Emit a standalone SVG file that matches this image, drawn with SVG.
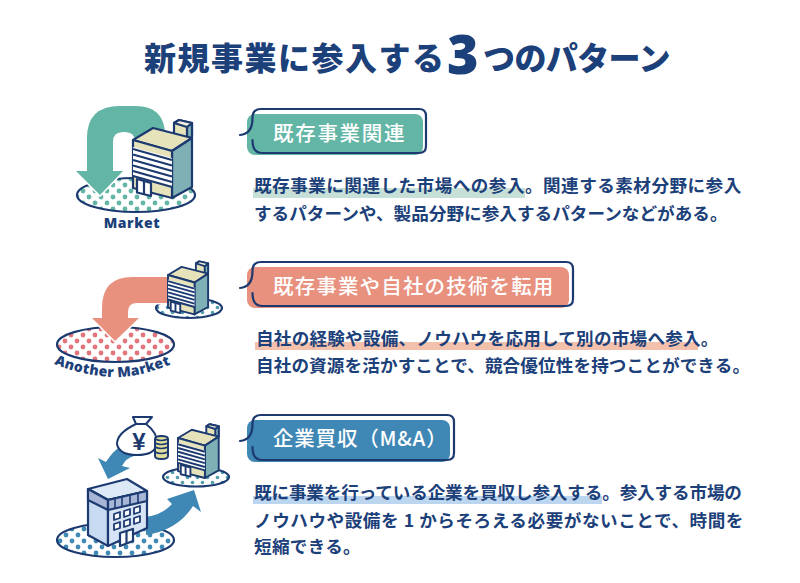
<svg xmlns="http://www.w3.org/2000/svg" xmlns:xlink="http://www.w3.org/1999/xlink" width="800" height="583" viewBox="0 0 800 583">
<style>
.jp{font-family:"Noto Sans CJK JP","Noto Sans",sans-serif}
.title{font-size:32px;font-weight:900;fill:#1c4079}
.head{font-size:20.5px;font-weight:500;fill:#fff;letter-spacing:1.4px}
.body{font-size:17.6px;font-weight:700;fill:#1c4079}
.lat{font-family:"Open Sans","Noto Sans",sans-serif;font-weight:800;fill:#1c4079}
.ln{fill:none;stroke:#1c3a70;stroke-width:2.2;stroke-linecap:round;stroke-linejoin:round}
.b{stroke:#1c3a70;stroke-linejoin:round}
.mk{stroke:#1c3a70;stroke-width:2.2}
.arr{stroke:#fff;stroke-width:3;stroke-linejoin:miter;paint-order:stroke}
</style>
<defs>
<pattern id="dt" width="12" height="12" patternUnits="userSpaceOnUse" patternTransform="translate(2 2)"><rect width="12" height="12" fill="#fff"/><circle cx="3" cy="3" r="2.400" fill="#63b5a6"/><circle cx="9" cy="9" r="2.400" fill="#63b5a6"/></pattern>
<pattern id="dp" width="12" height="12" patternUnits="userSpaceOnUse" patternTransform="translate(2 2)"><rect width="12" height="12" fill="#fff"/><circle cx="3" cy="3" r="2.400" fill="#e2747c"/><circle cx="9" cy="9" r="2.400" fill="#e2747c"/></pattern>
<pattern id="db" width="12" height="12" patternUnits="userSpaceOnUse" patternTransform="translate(3 4)"><rect width="12" height="12" fill="#fff"/><circle cx="3" cy="3" r="2.400" fill="#3f8ab5"/><circle cx="9" cy="9" r="2.400" fill="#3f8ab5"/></pattern>
<pattern id="ds" width="10" height="10" patternUnits="userSpaceOnUse"><rect width="10" height="10" fill="#fff"/><circle cx="2.500" cy="2.500" r="1.800" fill="#4f9cac"/><circle cx="7.500" cy="7.500" r="1.800" fill="#4f9cac"/></pattern>
<g id="bld" class="b">
<path d="M174 123L179 120L192 123V137L187 139L174 135Z" fill="#e6e3bb"/>
<path d="M187 127L192 123V137L187 140Z" fill="#7fb0b5"/>
<path d="M174 123L179 120L192 123L187 127Z" fill="#f4f2dc"/>
<path d="M133 140L153 128L192 138L172 151Z" fill="#e6e3bb"/>
<path d="M172 151L192 138V187L172 198Z" fill="#7fb0b5"/>
<path d="M133 140L172 151V198L133 188Z" fill="#e6e3bb"/>
<path d="M133 147L172 158V186L133 175Z" fill="#fff" stroke="none"/>
<path d="M133 149L172 160M133 154.500L172 165.500M133 160L172 171M133 165.500L172 176.500M133 171L172 182M133 176L172 187" fill="none"/>
<path d="M137 179L151 183V196L137 192.500Z" fill="#fff"/>
<path d="M144 181V194" fill="none"/>
</g>
</defs>
<rect width="800" height="583" fill="#fff"/>
<g id="title">
<text class="jp title" y="70"><tspan x="144" style="letter-spacing:1.500px">新規事業に参入する</tspan><tspan x="447" y="74" style="font-family:'Open Sans','Noto Sans',sans-serif;font-size:54px;font-weight:800">3</tspan><tspan x="483" y="70" style="letter-spacing:-.6px">つのパターン</tspan></text>
</g>
<g id="market-1"><ellipse cx="136" cy="195" rx="59" ry="17" fill="url(#dt)" class="mk"/></g>
<g id="market-2"><ellipse cx="115.500" cy="344.500" rx="58.500" ry="17.500" fill="url(#dp)" class="mk"/><ellipse cx="189" cy="308" rx="33" ry="10" fill="url(#ds)" class="mk"/></g>
<g id="market-3"><ellipse cx="115.500" cy="540" rx="58.500" ry="17" fill="url(#db)" class="mk"/><ellipse cx="196" cy="477" rx="33" ry="9.500" fill="url(#ds)" class="mk"/></g>
<g id="connectors">
<path class="arr" fill="#63b5a6" d="M87 171V138Q87 106 120 106H135Q165 106 165 135V165H135V142Q135 132 125 132H123Q113 132 113 142V171H123L100 195L76 171Z"/>
<path class="arr" fill="#e8917f" d="M168 277H132Q102 277 102 308V318H92L115 341L139 318H128V312Q128 303 137 303H168Z"/>
<path fill="#3f87b5" d="M121 446Q112 452 106 462L98 458L108 479L130 468L122 466Q126 458 134 456Z"/>
<path fill="#3f87b5" d="M146 517Q162 515 172 504L167 499L194 490L201 512L193 506Q178 530 146 535Z"/>
</g>
<use id="building-1" xlink:href="#bld" href="#bld" stroke-width="2.200"/>
<use id="building-2" xlink:href="#bld" href="#bld" stroke-width="2.800" transform="translate(168 275) scale(.68) translate(-133 -140)"/>
<use id="building-3" xlink:href="#bld" href="#bld" stroke-width="2.800" transform="translate(178 438) scale(.69) translate(-133 -140)"/>
<g id="money" class="b" stroke-width="2">
<path d="M133 417H152L146 424Q158 433 157 444Q155 455 137 455Q119 455 117 444Q117 433 136 424Z" fill="#fff"/>
<path d="M136 424H146" fill="none"/>
<text x="139" y="450" text-anchor="middle" font-family="Liberation Sans, sans-serif" font-size="24" font-weight="700" fill="#1c3a70" stroke="none">¥</text>
<path d="M155 439Q155 436 161.500 436Q168 436 168 439V456Q168 459 161.500 459Q155 459 155 456Z" fill="#e2df9e"/>
<path d="M155 443Q161 446 168 443M155 447Q161 450 168 447M155 452Q161 455 168 452M155 439Q161 442 168 439" fill="none" stroke-width="1.500"/>
</g>
<g id="building-main" class="b" stroke-width="2.200">
<path d="M88 489L127 479L147 491L108 500Z" fill="#dce8f5"/>
<path d="M88 489L108 500V546L88 535Z" fill="#c7daf1"/>
<path d="M108 500L147 491V528L108 546Z" fill="#d6e4f5"/>
<path d="M88 489L108 500V510L88 500Z" fill="#a7b6d6"/>
<path d="M108 500L147 491V501L108 510Z" fill="#a7b6d6"/>
<path d="M115 498V508M122 497V506M130 495V504M138 493V503" fill="none" stroke-width="1.600"/>
<path d="M114 514L120 512V518L114 520ZM124 511L130 509V515L124 517ZM134 508L140 506V512L134 514ZM114 524L120 522V528L114 530ZM124 521L130 519V525L124 527ZM134 518L140 516V522L134 524Z" fill="#fff" stroke-width="1.800"/>
<path d="M120 533L133 529V541L120 546Z" fill="#fff"/>
<path d="M126.500 531V543" fill="none"/>
</g>
<g id="label-market"><text class="lat" x="132" y="228" font-size="14" text-anchor="middle" letter-spacing=".6">Market</text></g>
<g id="label-another"><path id="arc" d="M54 364Q84 376 114 377T190 356" fill="none"/><text class="lat" font-size="14" letter-spacing=".3"><textPath href="#arc" xlink:href="#arc">Another Market</textPath></text></g>
<g id="pattern-1">
<rect x="247" y="114" width="176" height="41" rx="8" fill="#63b5a6"/>
<path class="ln" d="M252.500 140Q252.500 153 262 153H419Q426 153 426 146V116Q426 109 419 109H261Q252.500 109 252.500 118Q252.500 134 240 135"/>
<text class="jp head" x="273" y="141" style="letter-spacing:1.700px">既存事業関連</text>
<rect x="253" y="188" width="272" height="10" fill="#c6e0d8"/>
<text class="jp body" x="254" y="191.500" style="letter-spacing:.47px">既存事業に関連した市場への参入。関連する素材分野に参入</text>
<text class="jp body" x="254" y="220" style="letter-spacing:.03px">するパターンや、製品分野に参入するパターンなどがある。</text>
</g>
<g id="pattern-2">
<rect x="247" y="267" width="322" height="41" rx="8" fill="#e8917f"/>
<path class="ln" d="M252.500 293Q252.500 306 262 306H566Q573 306 573 299V269Q573 262 566 262H261Q252.500 262 252.500 271Q252.500 287 240 288"/>
<text class="jp head" x="273" y="294" style="letter-spacing:1.150px">既存事業や自社の技術を転用</text>
<rect x="255" y="342" width="443" height="8" fill="#f3c0ac"/>
<text class="jp body" x="256" y="345" style="letter-spacing:.22px">自社の経験や設備、ノウハウを応用して別の市場へ参入。</text>
<text class="jp body" x="256" y="372" style="letter-spacing:.11px">自社の資源を活かすことで、競合優位性を持つことができる。</text>
</g>
<g id="pattern-3">
<rect x="247" y="420" width="203" height="42" rx="8" fill="#3f87b5"/>
<path class="ln" d="M252.500 447Q252.500 460 262 460H447Q454 460 454 453V422Q454 415 447 415H261Q252.500 415 252.500 424Q252.500 440 240 441"/>
<text class="jp head" x="273" y="446" style="letter-spacing:.8px">企業買収（M&amp;A）</text>
<rect x="253" y="496" width="349" height="8" fill="#bdd6ef"/>
<text class="jp body" x="254" y="499" style="letter-spacing:-.14px">既に事業を行っている企業を買収し参入する。参入する市場の</text>
<text class="jp body" x="254" y="527" style="letter-spacing:.55px">ノウハウや設備を 1 からそろえる必要がないことで、時間を</text>
<text class="jp body" x="254" y="553" style="letter-spacing:.3px">短縮できる。</text>
</g>
</svg>
